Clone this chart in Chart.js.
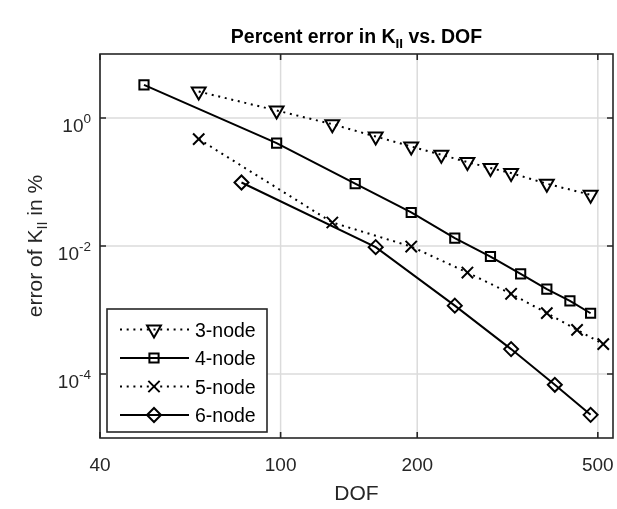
<!DOCTYPE html>
<html>
<head>
<meta charset="utf-8">
<script src="https://cdn.jsdelivr.net/npm/chart.js@4.4.0/dist/chart.umd.min.js"></script>
<style>
  html, body { margin: 0; padding: 0; background: #fff; }
  #wrap { width: 617px; height: 509px; }
</style>
</head>
<body>
<div id="wrap"><canvas id="errChart" width="617" height="509"></canvas></div>
<script>
// degrees of freedom and percent error for each element type
const dof3 = [66, 98, 130, 162, 194, 226, 258, 290, 322, 386, 482];
const err3 = [2.59, 1.31, 0.80, 0.514, 0.359, 0.266, 0.205, 0.165, 0.138, 0.094, 0.063];
const dof4 = [50, 98, 146, 194, 242, 290, 338, 386, 434, 482];
const err4 = [3.30, 0.405, 0.094, 0.0334, 0.0133, 0.00685, 0.00368, 0.00212, 0.00139, 0.00089];
const dof5 = [66, 130, 194, 258, 322, 386, 450, 514];
const err5 = [0.468, 0.0233, 0.0098, 0.00385, 0.00179, 0.000895, 0.00049, 0.000293];
const dof6 = [82, 162, 242, 322, 402, 482];
const err6 = [0.0982, 0.0096, 0.00117, 0.000245, 0.0000678, 0.000023];

const seriesNames = ['3-node', '4-node', '5-node', '6-node'];
const xTicks = [40, 100, 200, 500];
const yTicks = [1e-4, 1e-2, 1];
const yTickExp = ['-4', '-2', '0'];

const ink = '#262626';
const fontFam = '"Liberation Sans", Arial, Helvetica, sans-serif';

function pts(xs, ys) {
    return xs.map((v, i) => ({ x: v, y: ys[i] }));
}

const styles = [
    { pointStyle: 'triangle', rotation: 180, radius: 8, dash: [2, 4.7] },
    { pointStyle: 'rect', rotation: 0, radius: 6.5, dash: [] },
    { pointStyle: 'crossRot', rotation: 0, radius: 8, dash: [2, 4.7] },
    { pointStyle: 'rectRot', rotation: 0, radius: 7, dash: [] }
];
const allData = [pts(dof3, err3), pts(dof4, err4), pts(dof5, err5), pts(dof6, err6)];

const datasets = allData.map((d, i) => ({
    label: seriesNames[i],
    data: d,
    showLine: true,
    borderColor: '#000',
    borderWidth: 2,
    borderDash: styles[i].dash,
    pointStyle: styles[i].pointStyle,
    pointRotation: styles[i].rotation,
    pointRadius: styles[i].radius,
    pointHoverRadius: styles[i].radius,
    pointBorderColor: '#000',
    pointBorderWidth: 2,
    pointBackgroundColor: 'rgba(0,0,0,0)'
}));

// draws text pieces one after another, with sub/superscripts shifted by dy
function drawRich(ctx, parts, x, y, align) {
    let total = 0;
    parts.forEach(p => {
        ctx.font = (p.bold ? 'bold ' : '') + p.size + 'px ' + fontFam;
        p.w = ctx.measureText(p.t).width;
        total += p.w;
    });
    let cx = x;
    if (align === 'center') cx = x - total / 2;
    if (align === 'right') cx = x - total;
    ctx.textAlign = 'left';
    ctx.textBaseline = 'alphabetic';
    parts.forEach(p => {
        ctx.font = (p.bold ? 'bold ' : '') + p.size + 'px ' + fontFam;
        ctx.fillText(p.t, cx, y + (p.dy || 0));
        cx += p.w;
    });
}

const frame = {
    id: 'frame',
    beforeDatasetsDraw(chart) {
        const { ctx, chartArea: a, scales: { x, y } } = chart;
        ctx.save();
        ctx.strokeStyle = 'rgba(0,0,0,0.14)';
        ctx.lineWidth = 1.5;
        ctx.beginPath();
        xTicks.forEach(v => {
            const px = x.getPixelForValue(v);
            ctx.moveTo(px, a.top);
            ctx.lineTo(px, a.bottom);
        });
        yTicks.forEach(v => {
            const py = y.getPixelForValue(v);
            ctx.moveTo(a.left, py);
            ctx.lineTo(a.right, py);
        });
        ctx.stroke();
        ctx.restore();
    },
    afterDatasetsDraw(chart) {
        const { ctx, chartArea: a, scales: { x, y } } = chart;
        ctx.save();

        // axes box and inward ticks
        ctx.strokeStyle = ink;
        ctx.lineWidth = 1.6;
        ctx.strokeRect(a.left, a.top, a.right - a.left, a.bottom - a.top);
        ctx.beginPath();
        xTicks.forEach(v => {
            const px = x.getPixelForValue(v);
            ctx.moveTo(px, a.bottom); ctx.lineTo(px, a.bottom - 6);
            ctx.moveTo(px, a.top); ctx.lineTo(px, a.top + 6);
        });
        yTicks.forEach(v => {
            const py = y.getPixelForValue(v);
            ctx.moveTo(a.left, py); ctx.lineTo(a.left + 6, py);
            ctx.moveTo(a.right, py); ctx.lineTo(a.right - 6, py);
        });
        ctx.stroke();

        ctx.fillStyle = ink;
        // x tick labels
        xTicks.forEach(v => {
            drawRich(ctx, [{ t: String(v), size: 19 }], x.getPixelForValue(v), a.bottom + 33, 'center');
        });
        // y tick labels, 10 with exponent
        yTicks.forEach((v, i) => {
            const py = y.getPixelForValue(v);
            drawRich(ctx, [{ t: '10', size: 19 }, { t: yTickExp[i], size: 13.5, dy: -9 }], a.left - 9, py + 14, 'right');
        });

        // title
        const midX = (a.left + a.right) / 2;
        ctx.fillStyle = '#000';
        drawRich(ctx, [
            { t: 'Percent error in K', size: 19.5, bold: true },
            { t: 'II', size: 13.5, bold: true, dy: 5 },
            { t: ' vs. DOF', size: 19.5, bold: true }
        ], midX, 43, 'center');

        // axis labels
        ctx.fillStyle = ink;
        drawRich(ctx, [{ t: 'DOF', size: 21 }], midX, 500, 'center');
        ctx.save();
        ctx.translate(42, (a.top + a.bottom) / 2);
        ctx.rotate(-Math.PI / 2);
        drawRich(ctx, [
            { t: 'error of K', size: 21 },
            { t: 'II', size: 14.5, dy: 5 },
            { t: ' in %', size: 21 }
        ], 0, 0, 'center');
        ctx.restore();

        // legend box
        const lx = 107, ly = 309, lw = 160, lh = 123;
        ctx.fillStyle = '#fff';
        ctx.fillRect(lx, ly, lw, lh);
        ctx.strokeStyle = ink;
        ctx.lineWidth = 1.6;
        ctx.strokeRect(lx, ly, lw, lh);
        const rowY = [329.5, 358, 386.5, 415];
        chart.data.datasets.forEach((ds, i) => {
            const ry = rowY[i];
            ctx.save();
            ctx.strokeStyle = '#000';
            ctx.lineWidth = 2;
            ctx.setLineDash(ds.borderDash);
            ctx.beginPath();
            ctx.moveTo(120, ry);
            ctx.lineTo(189, ry);
            ctx.stroke();
            ctx.setLineDash([]);
            ctx.fillStyle = 'rgba(0,0,0,0)';
            ctx.lineWidth = 2;
            Chart.helpers.drawPoint(ctx, {
                pointStyle: ds.pointStyle,
                radius: ds.pointRadius,
                rotation: ds.pointRotation,
                borderWidth: 2
            }, 154, ry);
            ctx.restore();
            ctx.fillStyle = '#000';
            drawRich(ctx, [{ t: ds.label, size: 19.5 }], 195, ry + 7, 'left');
        });

        ctx.restore();
    }
};

new Chart(document.getElementById('errChart').getContext('2d'), {
    type: 'scatter',
    data: { datasets: datasets },
    options: {
        responsive: false,
        animation: false,
        devicePixelRatio: 1,
        layout: { autoPadding: false, padding: { left: 100, right: 4, top: 54, bottom: 71 } },
        scales: {
            x: { type: 'logarithmic', min: 40, max: 540, display: false },
            y: { type: 'logarithmic', min: 1e-5, max: 10, display: false }
        },
        plugins: {
            legend: { display: false },
            tooltip: { enabled: false }
        }
    },
    plugins: [frame]
});
</script>
</body>
</html>
